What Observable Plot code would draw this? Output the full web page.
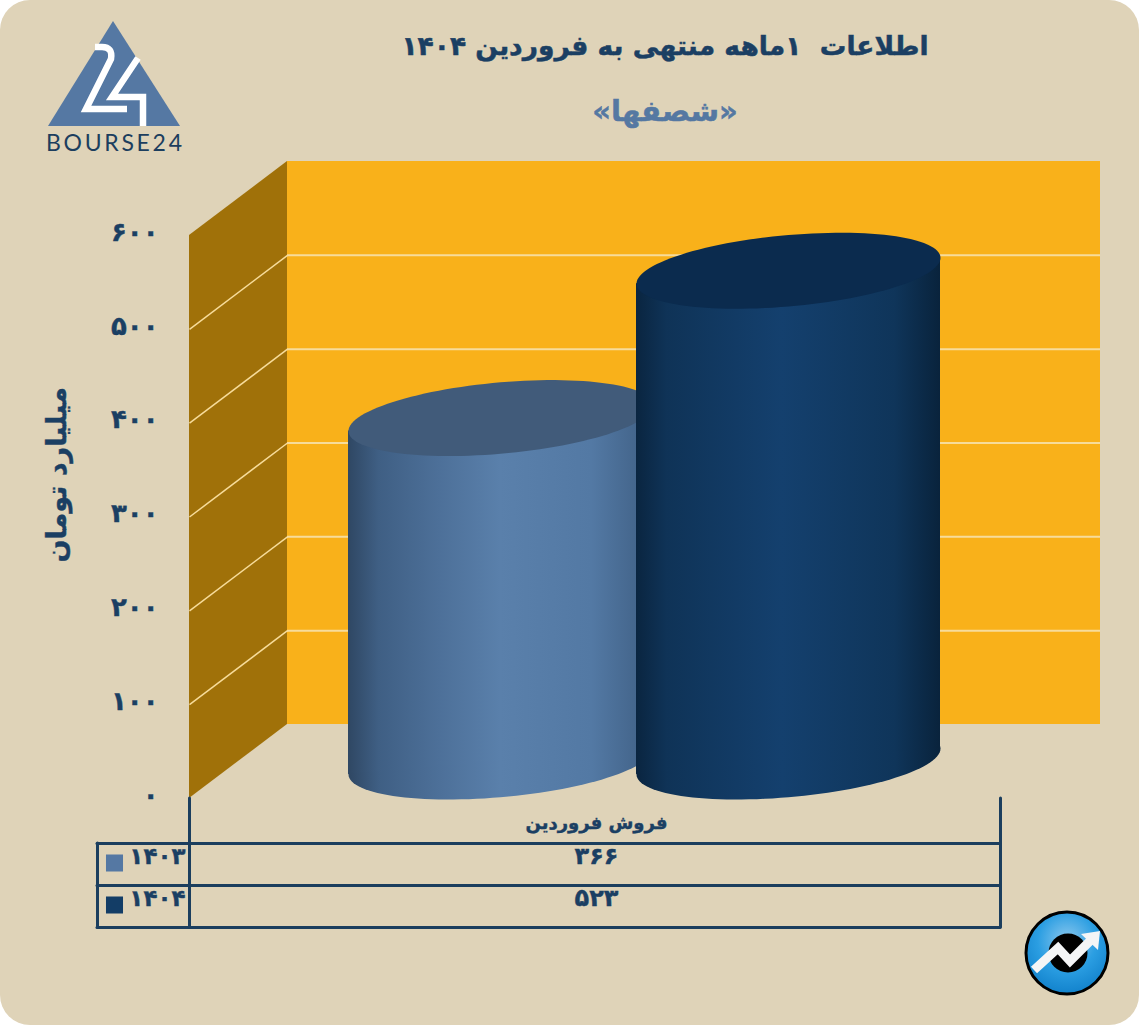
<!DOCTYPE html>
<html lang="fa">
<head>
<meta charset="utf-8">
<script src="https://cdn.jsdelivr.net/npm/d3@7"></script>
<script src="https://cdn.jsdelivr.net/npm/@observablehq/plot@0.6"></script>
<style>
  html, body { margin: 0; padding: 0; background: #fff; }
  #page { position: relative; width: 1139px; height: 1025px; background: #dfd3b8; border-radius: 30px; overflow: hidden;
          font-family: "DejaVu Sans", sans-serif; }
  #page > svg { position: absolute; left: 0; top: 0; }
  .head { position: absolute; left: 250px; width: 830px; text-align: center; font-weight: bold; direction: rtl; white-space: pre; }
  #title { top: 30px; font-size: 26.5px; color: #1b3f63; -webkit-text-stroke: 0.5px #1b3f63; }
  #subtitle { top: 94px; font-size: 29px; color: #5578a2; -webkit-text-stroke: 0.5px #5578a2; }
  .chart text { stroke: #1b3f63; stroke-width: 0.4px; }
</style>
</head>
<body>
<div id="page">
  <div class="head" id="title">اطلاعات  ۱ماهه منتهی به فروردین ۱۴۰۴</div>
  <div class="head" id="subtitle">«شصفها»</div>
  <svg id="logo" width="200" height="160" viewBox="0 0 200 160">
    <path d="M113,21 L180,126 H48 Z" fill="#5578a3"/>
    <path d="M95,47 H102 Q113,47 111,59 L86,109 H127" fill="none" stroke="#fff" stroke-width="6.5"/>
    <path d="M138,58 L112,97 H143 V126" fill="none" stroke="#fff" stroke-width="6.5"/>
    <text x="46" y="151" textLength="136" lengthAdjust="spacing" font-family="Lato" font-size="23" fill="#1c3e5e">BOURSE24</text>
  </svg>
  <svg id="badge" width="1139" height="1025" viewBox="0 0 1139 1025" style="pointer-events:none">
    <defs>
      <radialGradient id="badgeFill" cx="50%" cy="35%" r="65%">
        <stop offset="0" stop-color="#8cc8ee"/>
        <stop offset="0.55" stop-color="#2b9ee2"/>
        <stop offset="1" stop-color="#1282cc"/>
      </radialGradient>
    </defs>
    <circle cx="1067" cy="953" r="41" fill="url(#badgeFill)" stroke="#000" stroke-width="3"/>
    <circle cx="1068" cy="953" r="19.5" fill="#000"/>
    <path d="M1034,970 L1058,948 L1070,961 L1090,941" fill="none" stroke="#f4f5f6" stroke-width="9"/>
    <path d="M1081,934 L1100,931 L1098,950 Z" fill="#f4f5f6"/>
  </svg>
</div>
<script>
// ---- data ----
const years = ["۱۴۰۳", "۱۴۰۴"];
const sales = [366, 523];
const salesLabels = ["۳۶۶", "۵۲۳"];
const categoryLabel = "فروش فروردین";
const yTicks = [0, 100, 200, 300, 400, 500, 600];
const yTickLabels = ["۰", "۱۰۰", "۲۰۰", "۳۰۰", "۴۰۰", "۵۰۰", "۶۰۰"];
const yTitle = "میلیارد تومان";

// ---- layout and style ----
const W = 1139, H = 1025;
const yBase = 798, yTop = 235;
const unit = (yBase - yTop) / 600;          // pixels per billion toman
const depth = 74 / unit;                    // wall depth, in value units
const wallFront = 189, wallBack = 287, wallRight = 1100;
const barCenters = [500, 788];
const barHalf = 152;
const skew = 0.085, flat = 0.235;           // ellipse shape, relative to its half width
const tilt = (skew * barHalf) / unit;       // ellipse tilt, in value units
const bodyFills = ["url(#barLight)", "url(#barDark)"];
const capFills = ["#415b7a", "#0b2b4e"];
const swatches = ["#5578a3", "#133d66"];
const navy = "#1b3f63", line = "#1b3e5e", gridLine = "#f7dc9b";
const below = px => -px / unit;              // distance under the zero line
const rowLines = [45, 87, 129];
const rowText = [58, 100];
const rowSwatch = [64.5, 106.5];

const ellipse = {
  draw(ctx, size) {
    const a = Math.sqrt(size / Math.PI), n = 120;
    for (let i = 0; i < n; ++i) {
      const t = (i / n) * 2 * Math.PI;
      const x = a * Math.cos(t), y = a * (-skew * Math.cos(t) + flat * Math.sin(t));
      i ? ctx.lineTo(x, y) : ctx.moveTo(x, y);
    }
    ctx.closePath();
  }
};

const defs = () => {
  const g = document.createElementNS("http://www.w3.org/2000/svg", "g");
  g.innerHTML = `<defs>
    <linearGradient id="barLight" x1="0" x2="1" y1="0" y2="0">
      <stop offset="0" stop-color="#2f4763"/><stop offset="0.1" stop-color="#3f5f84"/>
      <stop offset="0.3" stop-color="#4d7099"/><stop offset="0.5" stop-color="#5a80ab"/>
      <stop offset="0.8" stop-color="#5379a4"/><stop offset="1" stop-color="#3f5f84"/>
    </linearGradient>
    <linearGradient id="barDark" x1="0" x2="1" y1="0" y2="0">
      <stop offset="0" stop-color="#0a2540"/><stop offset="0.1" stop-color="#0f3357"/>
      <stop offset="0.48" stop-color="#14406e"/><stop offset="0.85" stop-color="#0f355a"/>
      <stop offset="1" stop-color="#09233c"/>
    </linearGradient></defs>`;
  return g;
};

const depthMid = depth / 2;
const cylinder = (v, i) => {
  const c = barCenters[i];
  const pts = [
    {x: c - barHalf, y1: depthMid - tilt, y2: v + depthMid - tilt},
    {x: c + barHalf, y1: depthMid + tilt, y2: v + depthMid + tilt}
  ];
  return [
    Plot.dot([{x: c, y: depthMid}], {x: "x", y: "y", r: barHalf, symbol: ellipse, fill: bodyFills[i], stroke: null}),
    Plot.area(pts, {x1: "x", y1: "y1", y2: "y2", fill: bodyFills[i], curve: "linear"}),
    Plot.dot([{x: c, y: v + depthMid}], {x: "x", y: "y", r: barHalf, symbol: ellipse, fill: capFills[i], stroke: null})
  ];
};

const plot = Plot.plot({
  width: W, height: H, margin: 0,
  style: {background: "transparent", fontFamily: "DejaVu Sans, sans-serif"},
  x: {domain: [0, W], range: [0, W], axis: null},
  y: {domain: [0, 600], range: [yBase, yTop], axis: null},
  marks: [
    defs,
    // back wall
    Plot.rect([{}], {x1: wallBack, x2: wallRight, y1: () => depth, y2: () => 600 + depth, fill: "#f9b11a"}),
    // side wall
    Plot.area([{x: wallFront, y1: 0, y2: 600}, {x: wallBack, y1: depth, y2: 600 + depth}],
      {x1: "x", y1: "y1", y2: "y2", fill: "#a07109"}),
    // gridlines on both walls
    Plot.ruleY(yTicks.slice(1, -1), {y: d => d + depth, x1: wallBack, x2: wallRight, stroke: gridLine, strokeWidth: 2}),
    Plot.link(yTicks.slice(1, -1), {x1: wallFront, x2: wallBack, y1: d => d, y2: d => d + depth, stroke: gridLine, strokeWidth: 1.5}),
    // tick labels
    Plot.axisY(yTicks, {anchor: "left", tickSize: 0, tickPadding: 0, dx: 158, dy: -3, label: null,
      tickFormat: d => yTickLabels[yTicks.indexOf(d)], fontSize: 26, fontWeight: "bold", fill: navy}),
    Plot.text([yTitle], {x: () => 57, y: () => 345, text: d => d, rotate: -90, fontSize: 27, fontWeight: "bold", fill: navy}),
    // cylinders
    ...sales.flatMap(cylinder),
    // data table
    Plot.ruleY(rowLines, {y: d => below(d), x1: 97, x2: 1000, stroke: line, strokeWidth: 3, strokeLinecap: "round"}),
    Plot.ruleX([wallFront, 1000], {y1: 0, y2: below(129), stroke: line, strokeWidth: 3, strokeLinecap: "round"}),
    Plot.ruleX([97], {y1: below(45), y2: below(129), stroke: line, strokeWidth: 3, strokeLinecap: "round"}),
    Plot.text([categoryLabel], {x: () => 596, y: () => below(25), text: d => d, fontSize: 18, fontWeight: "bold", fill: navy}),
    ...years.flatMap((year, i) => [
      Plot.text([salesLabels[i]], {x: () => 596, y: () => below(rowText[i]), text: d => d, fontSize: 24, fontWeight: "bold", fill: navy}),
      Plot.text([year], {x: () => 185, y: () => below(rowText[i]), text: d => d, textAnchor: "end", fontSize: 23, fontWeight: "bold", fill: navy}),
      Plot.dot([year], {x: () => 114, y: () => below(rowSwatch[i]), r: 9.6, symbol: "square", fill: swatches[i], stroke: null})
    ])
  ]
});
plot.classList.add("chart");
const page = document.getElementById("page");
page.insertBefore(plot, page.firstChild);
</script>
</body>
</html>
